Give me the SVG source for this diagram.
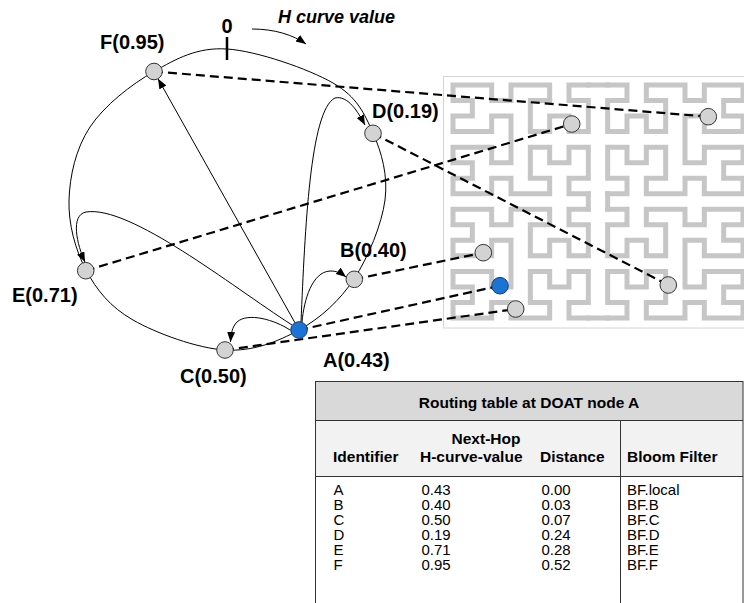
<svg xmlns="http://www.w3.org/2000/svg" xmlns:xlink="http://www.w3.org/1999/xlink" width="744" height="603" viewBox="0 0 744 603">
<style>
.lbl{font-family:"Liberation Sans",Arial,sans-serif;font-weight:bold;font-size:20px;fill:#000}
.ttl{font-family:"Liberation Sans",Arial,sans-serif;font-weight:bold;font-style:italic;font-size:18px;fill:#000}
.th{font-family:"Liberation Sans",Arial,sans-serif;font-weight:bold;font-size:15.5px;fill:#000}
.td{font-family:"Liberation Sans",Arial,sans-serif;font-size:15px;fill:#000}
.gn{fill:#d3d3d3;stroke:#333;stroke-width:1}
.bn{fill:#1a74d6;stroke:#1b3a66;stroke-width:1}
.dash{fill:none;stroke:#000;stroke-width:2.2;stroke-dasharray:9 5}
.arr{fill:none;stroke:#000;stroke-width:1;marker-end:url(#ah)}
.ring{fill:none;stroke:#000;stroke-width:1}
.tl{stroke:#333;stroke-width:1;fill:none}
</style>
<defs>
<marker id="ah" markerUnits="userSpaceOnUse" markerWidth="11" markerHeight="9" refX="10" refY="4" orient="auto">
<path d="M0,0 L10,4 L0,8 z" fill="#000"/>
</marker>
<path id="q" fill="none" stroke="#c6c6c6" stroke-width="5" stroke-linecap="square" stroke-linejoin="miter" vector-effect="non-scaling-stroke" d="M7,0 L6,0 6,1 7,1 7,3 6,3 6,2 5,2 5,3 4,3 4,1 5,1 5,0 3,0 3,1 2,1 2,0 0,0 0,1 1,1 1,2 0,2 0,3 2,3 2,2 3,2 3,5 2,5 2,4 0,4 0,5 1,5 1,6 0,6 0,7 2,7 2,6 3,6 3,7 5,7 5,6 4,6 4,4 5,4 5,5 6,5 6,4 7,4 7,6 6,6 6,7 7,7"/>
</defs>
<rect width="744" height="603" fill="#fff"/>

<g id="hcurve">
<rect x="443.5" y="76.5" width="310" height="251.5" fill="none" stroke="#d4d4d4" stroke-width="1"/>
<g transform="translate(453,85) scale(19.333,15.533)">
<use xlink:href="#q" href="#q"/>
<use xlink:href="#q" href="#q" transform="translate(0,8)"/>
<use xlink:href="#q" href="#q" transform="matrix(-1,0,0,1,15,0)"/>
<use xlink:href="#q" href="#q" transform="matrix(-1,0,0,1,15,8)"/>
<path fill="none" stroke="#c6c6c6" stroke-width="5" stroke-linecap="square" vector-effect="non-scaling-stroke" d="M7,7 L7,8 M8,7 L8,8 M7,0 L8,0 M7,15 L8,15"/>
</g>
</g>

<g id="ring">
<path class="ring" d="M227,49 C256.8,50.9 308.7,69 333,83 C357.3,97 364.3,113.5 373,133 C381.7,152.5 388.2,175.7 385,200 C381.8,224.3 368.3,257.3 354,279 C339.7,300.7 320.5,318.2 299,330 C277.5,341.8 252.7,351.7 225,350 C197.3,348.3 156.2,333.3 133,320 C109.8,306.7 96.7,290 86,270 C75.3,250 68.3,223.8 69,200 C69.7,176.2 75.8,148.4 90,127 C104.2,105.6 131.2,84.5 154,71.5 C176.8,58.5 197.2,47.1 227,49 Z"/>
<line x1="227" y1="37" x2="227" y2="60" stroke="#000" stroke-width="2.5"/>
<text class="lbl" x="227" y="32.5" text-anchor="middle">0</text>
<path class="arr" d="M252,29 C275,29 293,35 306,44"/>
<text class="ttl" x="278" y="22.7">H curve value</text>
</g>

<g id="connectors">
<line class="dash" x1="154" y1="71.5" x2="708.3" y2="116.7"/>
<line class="dash" x1="373" y1="133.3" x2="668.3" y2="285"/>
<line class="dash" x1="85.7" y1="270.7" x2="571.7" y2="124"/>
<line class="dash" x1="354.3" y1="279.3" x2="483.3" y2="252.7"/>
<line class="dash" x1="299" y1="330" x2="500" y2="285.7"/>
<line class="dash" x1="225" y1="350" x2="515.7" y2="309"/>
<path class="arr" d="M295,322.8 L158,78.7"/>
<path class="arr" d="M301,322 C305,230 310,110 335,98 C348,95 358,112 365,125"/>
<path class="arr" d="M292,325 C230,285 130,205 86,212 C70,215 77,245 85,262"/>
<path class="arr" d="M302,322 C304,300 312,272 330,271 C337,271 341,273 346,277"/>
<path class="arr" d="M290,330 C275,320 248,312 237,322 C232,327 231,334 230.5,342"/>
</g>

<g id="node-F"><circle class="gn" cx="154" cy="71.5" r="8.3"/><text class="lbl" x="100" y="49">F(0.95)</text></g>
<g id="node-D"><circle class="gn" cx="373" cy="133.3" r="8.3"/><text class="lbl" x="372" y="118">D(0.19)</text></g>
<g id="node-E"><circle class="gn" cx="85.7" cy="270.7" r="8.3"/><text class="lbl" x="12" y="301.5">E(0.71)</text></g>
<g id="node-B"><circle class="gn" cx="354.3" cy="279.3" r="8.3"/><text class="lbl" x="340" y="256.5">B(0.40)</text></g>
<g id="node-A"><circle class="bn" cx="299" cy="330" r="8.3"/><text class="lbl" x="323" y="366.5">A(0.43)</text></g>
<g id="node-C"><circle class="gn" cx="225" cy="350" r="8.3"/><text class="lbl" x="180" y="383">C(0.50)</text></g>

<g id="hnode-F"><circle class="gn" cx="708.3" cy="116.7" r="8.3"/></g>
<g id="hnode-E"><circle class="gn" cx="571.7" cy="124" r="8.3"/></g>
<g id="hnode-B"><circle class="gn" cx="483.3" cy="252.7" r="8.3"/></g>
<g id="hnode-A"><circle class="bn" cx="500" cy="285.7" r="8.3"/></g>
<g id="hnode-C"><circle class="gn" cx="515.7" cy="309" r="8.3"/></g>
<g id="hnode-D"><circle class="gn" cx="668.3" cy="285" r="8.3"/></g>

<g id="table">
<rect x="315.5" y="381.5" width="427.5" height="240" fill="#fff"/>
<rect x="315.5" y="381.5" width="427.5" height="39" fill="#d9d9d9"/>
<rect x="315.5" y="420.5" width="427.5" height="56" fill="#f2f2f2"/>
<rect class="tl" x="315.5" y="381.5" width="427.5" height="240"/>
<line class="tl" x1="315.5" y1="420.5" x2="743" y2="420.5"/>
<line class="tl" x1="315.5" y1="476.5" x2="743" y2="476.5"/>
<line class="tl" x1="620.5" y1="420.5" x2="620.5" y2="603"/>
<text class="th" x="529" y="407.5" text-anchor="middle">Routing table at DOAT node A</text>
<text class="th" x="486" y="444" text-anchor="middle">Next-Hop</text>
<text class="th" x="333" y="462">Identifier</text>
<text class="th" x="420" y="462">H-curve-value</text>
<text class="th" x="540" y="462">Distance</text>
<text class="th" x="627" y="462">Bloom Filter</text>
<g class="td">
<text x="333.5" y="495">A</text><text x="421.5" y="495">0.43</text><text x="541.5" y="495">0.00</text><text x="627" y="495">BF.local</text>
<text x="333.5" y="510">B</text><text x="421.5" y="510">0.40</text><text x="541.5" y="510">0.03</text><text x="627" y="510">BF.B</text>
<text x="333.5" y="524.8">C</text><text x="421.5" y="524.8">0.50</text><text x="541.5" y="524.8">0.07</text><text x="627" y="524.8">BF.C</text>
<text x="333.5" y="539.7">D</text><text x="421.5" y="539.7">0.19</text><text x="541.5" y="539.7">0.24</text><text x="627" y="539.7">BF.D</text>
<text x="333.5" y="554.6">E</text><text x="421.5" y="554.6">0.71</text><text x="541.5" y="554.6">0.28</text><text x="627" y="554.6">BF.E</text>
<text x="333.5" y="569.5">F</text><text x="421.5" y="569.5">0.95</text><text x="541.5" y="569.5">0.52</text><text x="627" y="569.5">BF.F</text>
</g>
</g>
</svg>
